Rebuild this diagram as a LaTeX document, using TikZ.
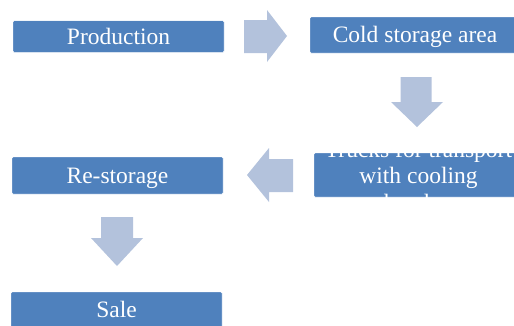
\documentclass[tikz,border=0pt]{standalone}
\usepackage{fontspec}
\setmainfont{Liberation Serif}
\definecolor{boxblue}{HTML}{4F81BD}
\definecolor{arrowblue}{HTML}{B3C2DC}
\begin{document}
\begin{tikzpicture}[x=1pt,y=-1pt,
  stagebox/.style={rectangle, fill=boxblue, draw=white, line width=0.4pt, rounded corners=1pt,
    inner sep=0pt, text=white, font=\fontsize{23.5}{27}\selectfont,
    text height=17pt, text depth=2pt},
  blockarrow/.style={fill=arrowblue}]
\useasboundingbox (0,0) rectangle (514,325);
\clip (0,0) rectangle (514,325);
% boxes
\node[stagebox, minimum width=211pt, minimum height=31.5pt] (prod) at (118.5,36.5) {Production};
\node[stagebox, minimum width=210pt, minimum height=36pt] (cold) at (415,35) {Cold storage area};
\node[stagebox, minimum width=209pt, minimum height=44pt] (trucks) at (418.5,175) {};
\node[text=white, font=\fontsize{23.5}{26.5}\selectfont, align=center, inner sep=0pt]
  (truckstext) at (trucks.center) [yshift=-0.8pt] {Trucks for transport\\with cooling\\chambers};
\node[stagebox, minimum width=211pt, minimum height=37pt] (restore) at (117.5,175.5) {Re-storage};
\node[stagebox, minimum width=211pt, minimum height=36pt] (sale) at (116.5,310) {Sale};
% block arrows
\fill[blockarrow] (244,20) -- (267,20) -- (267,10) -- (287,36) -- (267,62) -- (267,53) -- (244,53) -- cycle;
\fill[blockarrow] (400.7,77) -- (431.7,77) -- (431.7,102) -- (443,102) -- (417,127) -- (391,102) -- (400.7,102) -- cycle;
\fill[blockarrow] (293,159) -- (269,159) -- (269,148) -- (247,175) -- (269,202) -- (269,192) -- (293,192) -- cycle;
\fill[blockarrow] (101,217) -- (133,217) -- (133,238) -- (143,238) -- (117,266) -- (91,238) -- (101,238) -- cycle;
\end{tikzpicture}
\end{document}
